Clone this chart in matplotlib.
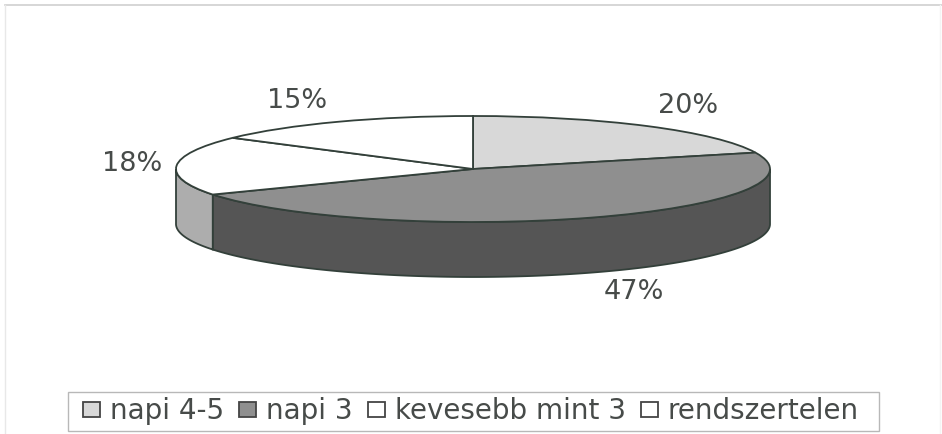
import matplotlib
matplotlib.use('Agg')
import matplotlib.pyplot as plt
import matplotlib.patches as mpatches
import numpy as np

plt.rcParams['font.family'] = ['DejaVu Sans']

# adatok
categories = ['napi 4-5', 'napi 3', 'kevesebb mint 3', 'rendszertelen']
values = [20, 47, 18, 15]
labels = ['20%', '47%', '18%', '15%']

top_colors = ['#d8d8d8', '#8f8f8f', '#ffffff', '#ffffff']
side_colors = ['#a8a8a8', '#555555', '#adadad', '#adadad']
edge = '#33403a'
text_color = '#474b49'

W, H = 942, 434
cx, cy, rx, ry = 473, 169, 297, 53
depth = 55 / ry

fig = plt.figure(figsize=(W / 100, H / 100), dpi=100)
ax = fig.add_axes([0, 0, 1, 1])

# felso lap
ax.pie(values, colors=top_colors, startangle=90, counterclock=False, radius=1,
       wedgeprops=dict(edgecolor=edge, linewidth=1.3), frame=True)
ax.set_aspect('auto')
ax.set_xlim((0 - cx) / rx, (W - cx) / rx)
ax.set_ylim((cy - H) / ry, cy / ry)
ax.axis('off')

# oldalfal, csak az elso oldali resz latszik
bounds = np.cumsum([0] + values) / 100 * 360
for i in range(len(values)):
    a = max(bounds[i], 90)
    b = min(bounds[i + 1], 270)
    if b <= a:
        continue
    t = np.radians(np.linspace(a, b, 200))
    x = np.sin(t)
    y = np.cos(t)
    ax.fill(np.r_[x, x[::-1]], np.r_[y, y[::-1] - depth], facecolor=side_colors[i],
            edgecolor=edge, linewidth=1.3, zorder=0.5)

# cimkek
label_pos = [(688, 106), (634, 292), (132, 164), (297, 101)]
for s, (px, py) in zip(labels, label_pos):
    ax.text((px - cx) / rx, (cy - py) / ry, s, ha='center', va='center',
            fontsize=19.5, color=text_color)

# jelmagyarazat keret
fig.add_artist(mpatches.Rectangle((68 / W, (H - 431) / H), 811 / W, 39.5 / H, transform=fig.transFigure,
                                  facecolor='white', edgecolor='#b8b8b8', linewidth=1))

handles = [mpatches.Patch(facecolor=c, edgecolor='#444444', linewidth=1.3) for c in top_colors]
leg = fig.legend(handles, categories, loc='center', bbox_to_anchor=(471 / W, (H - 411) / H),
                 ncol=4, fontsize=20, frameon=False,
                 handlelength=0.6, handleheight=0.46, handletextpad=0.36, columnspacing=0.55,
                 borderaxespad=0, borderpad=0, labelcolor=text_color)
leg.set_zorder(5)

# halvany lapkeret
fig.add_artist(plt.Line2D([5 / W, 1], [(H - 4.5) / H, (H - 4.5) / H], color='#cfcfcf', linewidth=1.2))
fig.add_artist(plt.Line2D([5 / W, 5 / W], [(H - 433) / H, (H - 4.5) / H], color='#e8e8e8', linewidth=1))
fig.add_artist(plt.Line2D([940 / W, 940 / W], [(H - 433) / H, (H - 4.5) / H], color='#f4f4f4', linewidth=1))

fig.savefig('out.png', dpi=100)
